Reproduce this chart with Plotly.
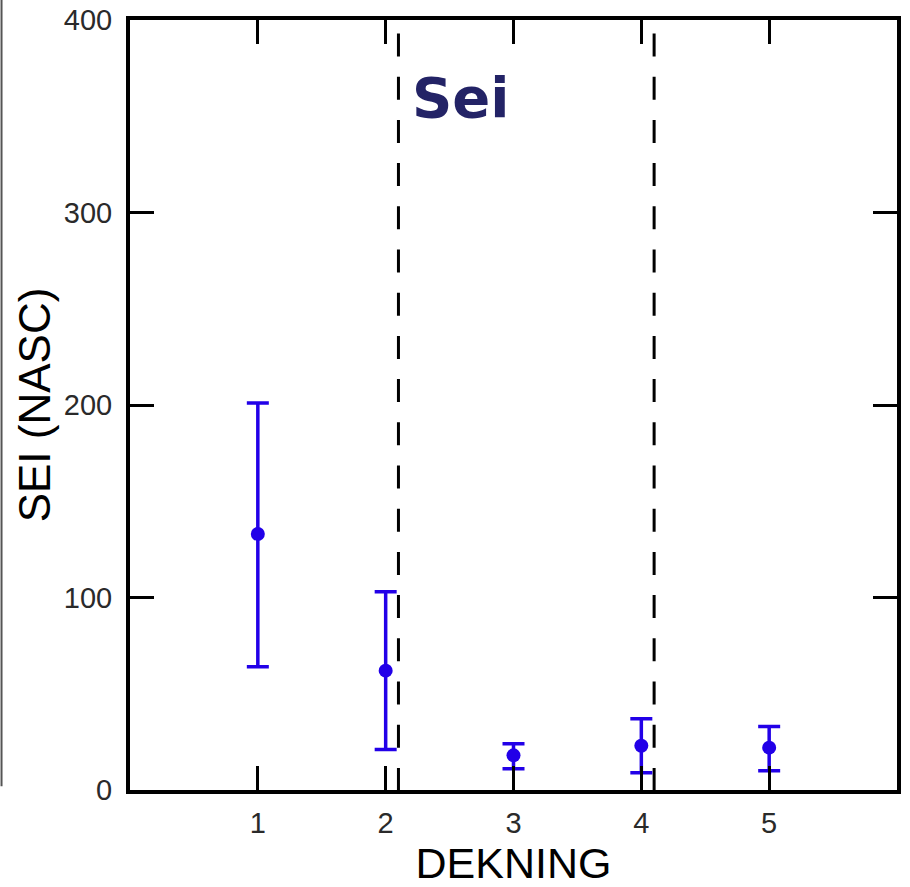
import plotly.graph_objects as go

# Survey coverage classes and the mean herring acoustic density (NASC) per class
dekning = [1, 2, 3, 4, 5]
sei_mean = [133, 62, 18, 23, 22]
sei_upper = [201, 103, 24, 37, 33]
sei_lower = [64, 21, 11, 9, 10]

# Dashed separators between coverage groups
divider_x = [2.1, 4.1]
divider_top = 393

x_ticks = [1, 2, 3, 4, 5]
y_ticks = [0, 100, 200, 300, 400]

BLUE = "#2200E8"

err_plus = [u - m for u, m in zip(sei_upper, sei_mean)]
err_minus = [m - l for m, l in zip(sei_mean, sei_lower)]

fig = go.Figure()

fig.add_trace(go.Scatter(
    x=dekning,
    y=sei_mean,
    mode="markers",
    marker=dict(color=BLUE, size=14, symbol="circle"),
    error_y=dict(
        type="data",
        symmetric=False,
        array=err_plus,
        arrayminus=err_minus,
        color=BLUE,
        thickness=3.5,
        width=11,
    ),
    showlegend=False,
))

for xv in divider_x:
    fig.add_shape(
        type="line", xref="x", yref="y",
        x0=xv, x1=xv, y0=divider_top, y1=0,
        line=dict(color="black", width=3, dash="23px,20.2px"),
        layer="below",
    )

# thin frame line at the far left edge
fig.add_shape(
    type="line", xref="paper", yref="paper",
    x0=-0.1675, x1=-0.1675, y0=0.005, y1=1.03,
    line=dict(color="#555555", width=2),
)

fig.add_annotation(
    x=2.59, y=360, xref="x", yref="y",
    text="<b>Sei</b>", showarrow=False,
    font=dict(family="DejaVu Sans", size=56, color="#232366"),
)

axis_common = dict(
    showline=True, linecolor="black", linewidth=4,
    mirror="allticks", ticks="inside", ticklen=24, tickwidth=3,
    tickcolor="black", showgrid=False, zeroline=False, automargin=False,
    tickfont=dict(family="Liberation Sans", size=29, color="#2a2a2a"),
)

fig.update_xaxes(
    range=[0, 6], tickvals=x_ticks, ticktext=[str(v) for v in x_ticks],
    title=dict(text="DEKNING", standoff=18,
               font=dict(family="Liberation Sans", size=43, color="black")),
    ticklabelstandoff=4,
    **axis_common,
)
fig.update_yaxes(
    range=[0, 400], tickvals=y_ticks, ticktext=[str(v) for v in y_ticks],
    title=dict(text="SEI (NASC)", standoff=0,
               font=dict(family="Liberation Sans", size=44, color="black")),
    ticklabelstandoff=8,
    **axis_common,
)

fig.update_layout(
    width=910, height=887,
    margin=dict(l=130, r=13, t=20, b=97),
    paper_bgcolor="white", plot_bgcolor="white",
)

fig.write_html("out.html")
